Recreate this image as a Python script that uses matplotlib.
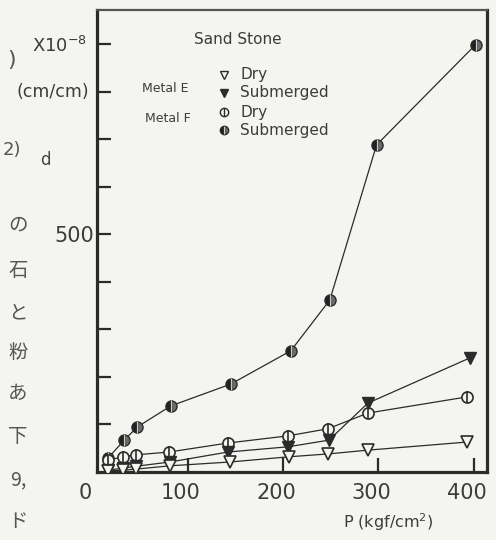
import matplotlib
matplotlib.use("Agg")
import matplotlib.pyplot as plt
import matplotlib.transforms as mtransforms

# ---- data ----
P_F_sub = [16, 33, 47, 82, 145, 208, 249, 298, 402]
F_sub = [29, 67, 95, 139, 185, 255, 362, 688, 899]
P_F_dry = [16, 32, 45, 80, 142, 205, 247, 289, 393]
F_dry = [25, 32, 36, 42, 61, 76, 91, 124, 158]
P_E_sub = [16, 32, 45, 81, 142, 205, 248, 289, 396]
E_sub = [4, 8, 12, 21, 42, 53, 67, 145, 240]
P_E_dry = [16, 32, 45, 81, 144, 206, 247, 289, 393]
E_dry = [2, 4, 6, 13, 21, 32, 38, 46, 63]

x_ticks = [100, 200, 300, 400]
x_ticklabels = ["100", "200", "300", "400"]
y_ticks = [100, 200, 300, 400, 500, 600, 700, 800, 900]
y_ticklabels = ["", "", "", "", "500", "", "", "", ""]

BG = "#f4f4f1"
INK = "#2b2b2b"
TXT = "#3c3c3c"

W, H = 496, 540
fig = plt.figure(figsize=(W / 100, H / 100), dpi=100, facecolor=BG)

def fx(x):
    return x / W

def fy(y):
    return 1 - y / H

ax = fig.add_axes([fx(97), fy(472), (487 - 97) / W, (472 - 10) / H])
ax.set_facecolor(BG)
ax.set_xlim(4.5, 414)
ax.set_ylim(0, 972)

lw = 0.9
ms = 8
# Metal F submerged
ax.plot(P_F_sub, F_sub, color=INK, lw=lw, marker="o", ms=ms, fillstyle="left",
        mfc="#222222", mfcalt="#6a6a6a", mec=INK, mew=1.0, zorder=3)
ax.plot(P_F_sub, F_sub, ls="none", marker="|", ms=ms, mec="#cccccc", mew=0.8, zorder=4)
# Metal F dry
ax.plot(P_F_dry, F_dry, color=INK, lw=lw, marker="o", ms=ms, mfc=BG, mec=INK, mew=1.2, zorder=3)
ax.plot(P_F_dry, F_dry, ls="none", marker="|", ms=ms, mec=INK, mew=1.2, zorder=4)
# Metal E submerged
ax.plot(P_E_sub, E_sub, color=INK, lw=lw, marker="v", ms=ms, mfc=INK, mec=INK, zorder=3)
# Metal E dry
ax.plot(P_E_dry, E_dry, color=INK, lw=lw, marker="v", ms=ms, mfc=BG, mec=INK, mew=1.2, zorder=3)

for s in ["left", "bottom", "right"]:
    ax.spines[s].set_linewidth(2.3)
    ax.spines[s].set_color(INK)
ax.spines["top"].set_linewidth(1.6)
ax.spines["top"].set_color("#555555")

ax.set_xticks(x_ticks)
ax.set_xticklabels(x_ticklabels)
ax.set_yticks(y_ticks)
ax.set_yticklabels(y_ticklabels)
ax.tick_params(axis="both", direction="in", length=10, width=1.6, colors=INK,
               labelcolor=TXT, labelsize=15)
ax.tick_params(axis="x", pad=8)
ax.tick_params(axis="y", pad=2)
offset = mtransforms.ScaledTranslation(-7 / 100, 0, fig.dpi_scale_trans)
for lab in ax.get_xticklabels():
    lab.set_transform(lab.get_transform() + offset)

# "0" at the origin
fig.text(fx(85), fy(493), "0", ha="center", va="center", fontsize=15, color=TXT)

# axis titles
fig.text(fx(388), fy(522), "P (kgf/cm$^2$)", ha="center", va="center", fontsize=11.5, color=TXT)
fig.text(fx(60), fy(46), r"X10$^{-8}$", ha="center", va="center", fontsize=13, color=TXT)
fig.text(fx(53), fy(92), "(cm/cm)", ha="center", va="center", fontsize=12.5, color=TXT)

# in-plot annotations / legend
fig.text(fx(238), fy(39), "Sand Stone", ha="center", va="center", fontsize=11, color=TXT)
fig.text(fx(165), fy(88), "Metal E", ha="center", va="center", fontsize=9, color=TXT)
fig.text(fx(168), fy(118), "Metal F", ha="center", va="center", fontsize=9, color=TXT)
leg_rows = [(75, "Dry"), (92, "Submerged"), (112, "Dry"), (130, "Submerged")]
for y, t in leg_rows:
    fig.text(fx(240), fy(y), t, ha="left", va="center", fontsize=11, color=TXT)
lm = 6
ax.plot([fx(224)], [fy(75)], transform=fig.transFigure, clip_on=False, marker="v", ms=lm,
        mfc=BG, mec=INK, mew=1.0)
ax.plot([fx(224)], [fy(93)], transform=fig.transFigure, clip_on=False, marker="v", ms=lm,
        mfc=INK, mec=INK)
ax.plot([fx(224)], [fy(112)], transform=fig.transFigure, clip_on=False, marker="o", ms=lm,
        mfc=BG, mec=INK, mew=1.0)
ax.plot([fx(224)], [fy(112)], transform=fig.transFigure, clip_on=False, marker="|", ms=lm,
        mec=INK, mew=1.0)
ax.plot([fx(224)], [fy(130)], transform=fig.transFigure, clip_on=False, marker="o", ms=lm,
        fillstyle="left", mfc="#222222", mfcalt="#6a6a6a", mec=INK)
ax.plot([fx(224)], [fy(130)], transform=fig.transFigure, clip_on=False, marker="|", ms=lm,
        mec="#cccccc", mew=0.8)

# page-text fragments visible in the left margin of the scan
cjk = ["Noto Sans CJK JP", "DejaVu Sans"]
fig.text(fx(12), fy(60), ")", ha="center", va="center", fontsize=16, color="#555555")
fig.text(fx(12), fy(150), "2)", ha="center", va="center", fontsize=13, color="#555555")
fig.text(fx(45), fy(160), "d", ha="center", va="center", fontsize=12, color="#444444")
margin_chars = [(225, "の"), (270, "石"), (313, "と"), (352, "粉"),
                (393, "あ"), (437, "下"), (480, "9,"), (522, "ド")]
for y, ch in margin_chars:
    fig.text(fx(18), fy(y), ch, ha="center", va="center", fontsize=14,
             color="#555555", family=cjk)

fig.savefig("out.png", dpi=100, facecolor=BG)
